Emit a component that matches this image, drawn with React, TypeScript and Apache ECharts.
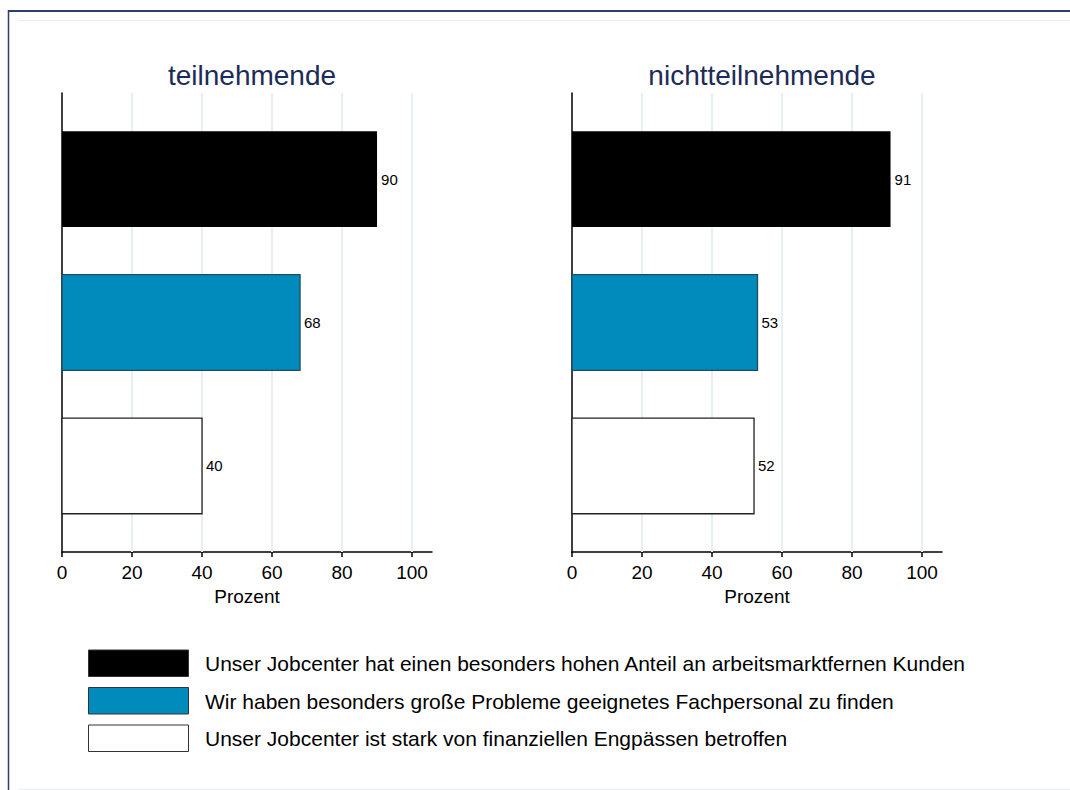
import React, { useEffect, useRef } from "react";
import * as echarts from "echarts";

const categories = [
  "Unser Jobcenter hat einen besonders hohen Anteil an arbeitsmarktfernen Kunden",
  "Wir haben besonders große Probleme geeignetes Fachpersonal zu finden",
  "Unser Jobcenter ist stark von finanziellen Engpässen betroffen",
];
const teilnehmende = [90, 68, 40];
const nichtteilnehmende = [91, 53, 52];
const panelTitles = ["teilnehmende", "nichtteilnehmende"];
const xTicks = [0, 20, 40, 60, 80, 100];
const axisName = "Prozent";

const FILLS = ["#000000", "#008bbc", "#ffffff"];
const STROKES = ["#000000", "#1d4d5f", "#222222"];
const FONT = "Liberation Sans, Arial, sans-serif";

export default function App() {
  const ref = useRef<HTMLDivElement>(null);
  useEffect(() => {
    if (!ref.current) return;
    const chart = echarts.init(ref.current, null, { renderer: "svg" });
    const panels = [teilnehmende, nichtteilnehmende];
    const lefts = [62, 572];
    const grids = lefts.map((l) => ({ left: l, top: 93, width: 370, height: 459 }));
    const xAxes = lefts.map((_, i) => ({
      type: "value",
      gridIndex: i,
      min: 0,
      max: 105.7,
      name: axisName,
      nameLocation: "middle",
      nameGap: 32,
      nameTextStyle: { color: "#000", fontSize: 19, fontFamily: FONT },
      axisLine: { show: true, lineStyle: { color: "#000", width: 1.5 } },
      axisTick: { show: true, length: 5, customValues: xTicks, lineStyle: { color: "#000", width: 1.5 } },
      axisLabel: { show: true, customValues: xTicks, color: "#000", fontSize: 19, fontFamily: FONT, margin: 11 },
      splitLine: { show: false },
    }));
    const yAxes = lefts.map((_, i) => ({
      type: "value",
      gridIndex: i,
      min: 0.4,
      max: 3.6,
      inverse: true,
      axisLine: { show: true, onZero: false, lineStyle: { color: "#000", width: 1.5 } },
      axisTick: { show: false },
      axisLabel: { show: false },
      splitLine: { show: false },
    }));
    const series: any[] = [];
    panels.forEach((vals, i) => {
      series.push({
        type: "custom",
        xAxisIndex: i,
        yAxisIndex: i,
        z: 1,
        silent: true,
        data: xTicks.slice(1).map((v) => [v]),
        renderItem: (params: any, api: any) => {
          const v = api.value(0);
          const a = api.coord([v, 0.4]);
          const b = api.coord([v, 3.6]);
          return {
            type: "line",
            shape: { x1: a[0], y1: a[1], x2: b[0], y2: b[1] },
            style: { stroke: "#e8eff2", lineWidth: 2 },
          };
        },
      });
      series.push({
        type: "custom",
        xAxisIndex: i,
        yAxisIndex: i,
        z: 3,
        data: vals.map((v, k) => [v, k + 1, k]),
        renderItem: (params: any, api: any) => {
          const v = api.value(0);
          const c = api.value(1);
          const k = api.value(2);
          const s = api.coord([0, c]);
          const e = api.coord([v, c]);
          const h = api.size([0, 0.667])[1];
          return {
            type: "group",
            children: [
              {
                type: "rect",
                shape: { x: s[0], y: s[1] - h / 2, width: e[0] - s[0], height: h },
                style: { fill: FILLS[k], stroke: STROKES[k], lineWidth: k === 0 ? 0 : 1.3 },
              },
              {
                type: "text",
                x: e[0] + 4,
                y: e[1],
                style: {
                  text: String(v),
                  fill: "#000",
                  fontSize: 15,
                  fontFamily: FONT,
                  verticalAlign: "middle",
                  align: "left",
                },
              },
            ],
          };
        },
      });
    });

    const legendItems: any[] = [];
    categories.forEach((c, k) => {
      const y = 650 + k * 37.5;
      legendItems.push({
        type: "rect",
        shape: { x: 88.5, y: y, width: 100, height: 26.5 },
        style: { fill: FILLS[k], stroke: "#333", lineWidth: 1 },
      });
      legendItems.push({
        type: "text",
        x: 205,
        y: y + 13.5,
        style: { text: c, fill: "#000", fontSize: 21, fontFamily: FONT, verticalAlign: "middle", align: "left" },
      });
    });

    chart.setOption({
      animation: false,
      backgroundColor: "#ffffff",
      title: panelTitles.map((t, i) => ({
        text: t,
        left: lefts[i] + 185,
        top: 56,
        textAlign: "center",
        textStyle: { color: "#1c2b57", fontSize: 28, fontWeight: "normal", fontFamily: FONT },
      })),
      grid: grids,
      xAxis: xAxes,
      yAxis: yAxes,
      series,
      graphic: [
        { type: "line", shape: { x1: 8, y1: 11, x2: 1070, y2: 11 }, style: { stroke: "#2c3f6b", lineWidth: 2 } },
        { type: "line", shape: { x1: 8.5, y1: 10, x2: 8.5, y2: 790 }, style: { stroke: "#2c3f6b", lineWidth: 1.5 } },
        { type: "line", shape: { x1: 18, y1: 20.5, x2: 1070, y2: 20.5 }, style: { stroke: "#e6eef2", lineWidth: 1 } },
        { type: "line", shape: { x1: 18, y1: 789.5, x2: 1070, y2: 789.5 }, style: { stroke: "#e6eef2", lineWidth: 1 } },
        ...legendItems,
      ],
    });
    return () => chart.dispose();
  }, []);
  return (
    <div
      ref={ref}
      style={{ position: "absolute", left: 0, top: 0, width: 1070, height: 790 }}
    />
  );
}
